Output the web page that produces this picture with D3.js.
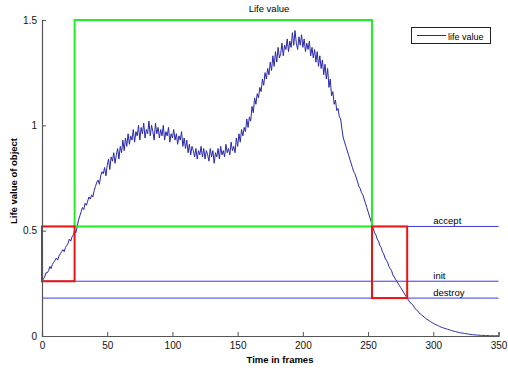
<!DOCTYPE html>
<html>
<head>
<meta charset="utf-8">
<script src="https://cdn.jsdelivr.net/npm/d3@7"></script>
<style>
  body { margin: 0; background: #fff; }
  text { font-family: "Liberation Sans", Arial, sans-serif; }
</style>
</head>
<body>
<div id="chart"></div>
<script>
// life value per frame, frames 0..350
var lifeValue = [
  0.26,0.27,0.28,0.30,0.30,0.31,0.33,0.32,0.34,0.35,
  0.36,0.37,0.36,0.38,0.39,0.40,0.41,0.40,0.42,0.43,
  0.44,0.46,0.45,0.47,0.48,0.50,0.49,0.52,0.55,0.57,
  0.59,0.61,0.60,0.63,0.62,0.64,0.66,0.65,0.67,0.66,
  0.69,0.71,0.73,0.74,0.72,0.76,0.78,0.77,0.80,0.76,
  0.81,0.84,0.79,0.85,0.83,0.87,0.82,0.86,0.89,0.84,
  0.90,0.87,0.93,0.88,0.94,0.90,0.96,0.91,0.95,0.93,
  0.98,0.92,0.97,0.95,1.00,0.93,0.99,0.96,1.01,0.94,
  0.98,0.96,1.02,0.95,1.00,0.97,0.93,1.01,0.96,0.99,
  0.94,0.98,0.95,1.00,0.93,0.97,0.95,0.99,0.92,0.96,
  0.94,0.98,0.93,0.96,0.91,0.95,0.93,0.97,0.90,0.94,
  0.89,0.93,0.87,0.91,0.86,0.90,0.88,0.85,0.89,0.84,
  0.88,0.86,0.90,0.85,0.89,0.84,0.88,0.86,0.83,0.89,
  0.85,0.88,0.82,0.87,0.85,0.89,0.84,0.90,0.86,0.88,
  0.85,0.91,0.87,0.89,0.86,0.92,0.88,0.90,0.87,0.94,
  0.90,0.96,0.92,0.98,0.95,0.99,0.97,1.03,0.99,1.04,
  1.02,1.09,1.06,1.13,1.10,1.15,1.13,1.18,1.16,1.22,
  1.19,1.25,1.22,1.27,1.24,1.30,1.26,1.33,1.28,1.35,
  1.30,1.37,1.32,1.34,1.39,1.33,1.38,1.36,1.41,1.35,
  1.40,1.37,1.44,1.38,1.45,1.39,1.36,1.42,1.38,1.43,
  1.37,1.41,1.35,1.39,1.36,1.40,1.33,1.37,1.32,1.36,
  1.30,1.35,1.28,1.33,1.27,1.31,1.24,1.29,1.22,1.27,
  1.18,1.22,1.14,1.16,1.10,1.12,1.07,1.08,1.04,1.03,
  0.98,0.94,0.92,0.90,0.88,0.86,0.84,0.82,0.80,0.78,
  0.77,0.75,0.73,0.71,0.70,0.68,0.67,0.65,0.63,0.61,
  0.59,0.57,0.55,0.53,0.51,0.49,0.48,0.46,0.45,0.43,
  0.42,0.40,0.39,0.37,0.36,0.35,0.33,0.32,0.31,0.29,
  0.28,0.27,0.26,0.25,0.24,0.23,0.22,0.21,0.20,0.19,
  0.18,0.17,0.16,0.155,0.15,0.14,0.13,0.125,0.12,0.11,
  0.105,0.10,0.095,0.09,0.085,0.08,0.076,0.072,0.068,0.064,
  0.06,0.057,0.054,0.051,0.048,0.045,0.042,0.04,0.038,0.036,
  0.034,0.032,0.03,0.028,0.026,0.024,0.022,0.021,0.019,0.018,
  0.016,0.015,0.014,0.013,0.012,0.011,0.01,0.009,0.008,0.007,
  0.006,0.006,0.005,0.005,0.004,0.004,0.003,0.003,0.003,0.002,
  0.002,0.002,0.002,0.001,0.001,0.001,0.001,0.001,0.001,0.001,0.001
];

// threshold lines
var thresholds = [
  { name: "accept",  value: 0.52 },
  { name: "init",    value: 0.26 },
  { name: "destroy", value: 0.18 }
];

// boxes [x0, x1, y0, y1]
var greenBox = [25, 253, 0.52, 1.5];
var redBoxes = [[0, 25, 0.26, 0.52], [253, 280, 0.18, 0.52]];

var xTicks = [0, 50, 100, 150, 200, 250, 300, 350];
var yTicks = [0, 0.5, 1, 1.5];

var width = 508, height = 370;

var svg = d3.select("#chart").append("svg")
    .attr("width", width)
    .attr("height", height);

var x = d3.scaleLinear().domain([0, 350]).range([42, 498.5]);
var y = d3.scaleLinear().domain([0, 1.5]).range([336, 20]);

// threshold lines
svg.selectAll(".thr")
    .data(thresholds)
    .enter().append("line")
    .attr("x1", x(0)).attr("x2", x(350))
    .attr("y1", function(d){ return y(d.value); })
    .attr("y2", function(d){ return y(d.value); })
    .style("stroke", "#3a3ae0")
    .style("stroke-width", 1);

svg.selectAll(".thrlabel")
    .data(thresholds)
    .enter().append("text")
    .attr("x", x(300))
    .attr("y", function(d){ return y(d.value) - 2.5; })
    .style("font-size", "9.5px")
    .text(function(d){ return d.name; });

// the curve
var line = d3.line()
    .x(function(d, i){ return x(i); })
    .y(function(d){ return y(d); });

svg.append("path")
    .datum(lifeValue)
    .attr("d", line)
    .style("fill", "none")
    .style("stroke", "#2828a8")
    .style("stroke-width", 1);

// green box
svg.append("rect")
    .attr("x", x(greenBox[0]))
    .attr("y", y(greenBox[3]))
    .attr("width", x(greenBox[1]) - x(greenBox[0]))
    .attr("height", y(greenBox[2]) - y(greenBox[3]))
    .style("fill", "none")
    .style("stroke", "#22ee22")
    .style("stroke-width", 2);

// red boxes
svg.selectAll(".red")
    .data(redBoxes)
    .enter().append("rect")
    .attr("x", function(d){ return x(d[0]); })
    .attr("y", function(d){ return y(d[3]); })
    .attr("width", function(d){ return x(d[1]) - x(d[0]); })
    .attr("height", function(d){ return y(d[2]) - y(d[3]); })
    .style("fill", "none")
    .style("stroke", "#ee1111")
    .style("stroke-width", 2);

// axes (ticks point inward, matlab style)
var xAxis = svg.append("g")
    .attr("transform", "translate(0," + y(0) + ")")
    .call(d3.axisTop(x).tickValues(xTicks).tickSize(4).tickFormat(d3.format("d")));
xAxis.selectAll("text").attr("y", 6).attr("dy", "0.71em");

var yAxis = svg.append("g")
    .attr("transform", "translate(" + x(0) + ",0)")
    .call(d3.axisRight(y).tickValues(yTicks).tickSize(4).tickFormat(function(d){ return String(d); }));
yAxis.selectAll("text").attr("x", -5).style("text-anchor", "end");

svg.selectAll(".domain").style("stroke", "#555").style("stroke-width", 1.2);
svg.selectAll(".tick line").style("stroke", "#555");
svg.selectAll(".tick text")
    .style("font-family", "Liberation Sans, Arial, sans-serif")
    .style("font-size", "10px")
    .style("fill", "#111");

// titles
svg.append("text")
    .attr("x", 269).attr("y", 12)
    .style("text-anchor", "middle")
    .style("font-size", "9.5px")
    .text("Life value");

svg.append("text")
    .attr("x", 280).attr("y", 363)
    .style("text-anchor", "middle")
    .style("font-size", "9.5px")
    .style("font-weight", "bold")
    .text("Time in frames");

svg.append("text")
    .attr("transform", "translate(17,181) rotate(-90)")
    .style("text-anchor", "middle")
    .style("font-size", "9.5px")
    .style("font-weight", "bold")
    .text("Life value of object");

// legend
var legend = svg.append("g");
legend.append("rect")
    .attr("x", 411.5).attr("y", 27.5)
    .attr("width", 79).attr("height", 16)
    .style("fill", "#fff")
    .style("stroke", "#222");
legend.append("line")
    .attr("x1", 417).attr("x2", 446)
    .attr("y1", 35.5).attr("y2", 35.5)
    .style("stroke", "#2828a8");
legend.append("text")
    .attr("x", 448).attr("y", 39.5)
    .style("font-size", "9px")
    .text("life value");
</script>
</body>
</html>
